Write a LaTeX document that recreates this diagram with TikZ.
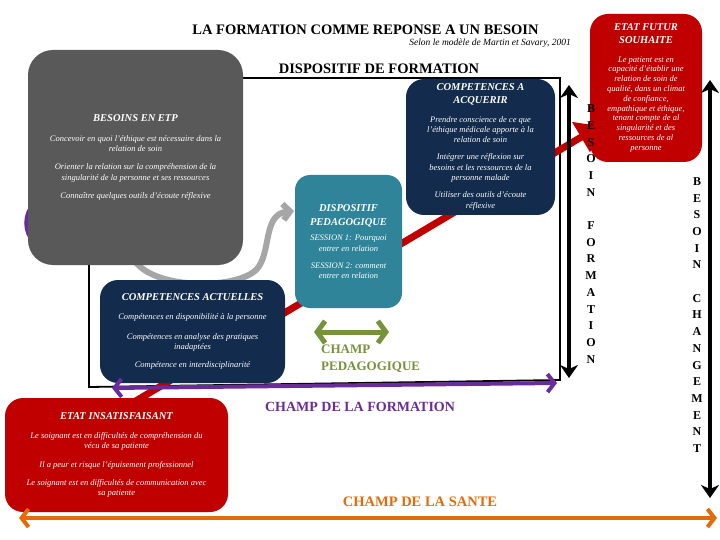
\documentclass[tikz,border=0pt]{standalone}
\usepackage{fontspec}
\setmainfont{Liberation Serif}
\usetikzlibrary{arrows.meta}
\definecolor{boxgray}{HTML}{595959}
\definecolor{boxred}{HTML}{C00000}
\definecolor{boxnavy}{HTML}{132B4D}
\definecolor{boxteal}{HTML}{2F849A}
\definecolor{champviolet}{HTML}{6A2C9A}
\definecolor{champolive}{HTML}{76923C}
\definecolor{champorange}{HTML}{E36C09}
\definecolor{arrowgray}{HTML}{A6A6A6}
\newcommand\cardtitle[1]{{\fontsize{10.5}{12}\selectfont\bfseries #1}}
\begin{document}
\begin{tikzpicture}[x=1pt,y=-1pt,
  card/.style={rounded corners=18pt, text=white, align=center, inner sep=0pt,
    font=\fontsize{8.5}{10.3}\selectfont\itshape},
  bigtitle/.style={font=\fontsize{14.5}{16}\selectfont\bfseries, inner sep=0pt},
  champ/.style={font=\fontsize{14}{17}\selectfont\bfseries, inner sep=0pt},
  vletters/.style={font=\fontsize{12}{16.7}\selectfont\bfseries, align=center, inner sep=0pt},
  blackarrow/.style={line width=4.5pt, {Stealth[length=13pt,width=18pt,inset=4pt]}-{Stealth[length=13pt,width=18pt,inset=4pt]}},
  barbs/.style={{Straight Barb[length=7pt,width=18pt]}-{Straight Barb[length=7pt,width=18pt]}}
]
\useasboundingbox (0,0) rectangle (720,540);
\fill[white] (0,0) rectangle (720,540);

% frame of the training device
\draw[line width=1.8pt] (89,78) -- (560,78) -- (560,380) -- (89,387) -- cycle;

% red arrow (behind boxes)
\coordinate (rs) at (112,415);
\coordinate (re) at (600,126);
\draw[boxred, line width=7pt, -{Triangle[length=22pt,width=34pt]}] (rs) -- (re);

% purple arc behind the grey box
\draw[champviolet, line width=7pt] (36,204) .. controls (25,214) and (25,232) .. (36,242);

% grey curved arrow
\coordinate (gs) at (133,258);
\coordinate (ge) at (294,211);
\draw[arrowgray, line width=6pt, -{Straight Barb[length=7pt,width=16pt]}]
  (gs) .. controls (150,290) and (235,290) .. (256,270)
  .. controls (272,254) and (262,214) .. (ge);

% boxes
\node[card, fill=boxgray, rounded corners=25pt, minimum width=215pt, minimum height=215pt] (besoins) at (135.5,157.5)
 {\cardtitle{BESOINS EN ETP}\\[9pt]
  Concevoir en quoi l'éthique est nécessaire dans la\\ relation de soin\\[8pt]
  Orienter la relation sur la compréhension de la\\ singularité de la personne et ses ressources\\[8pt]
  Connaître quelques outils d'écoute réflexive};

\node[card, fill=boxred, font=\fontsize{8.5}{9.8}\selectfont\itshape, minimum width=112pt, minimum height=148pt] (futur) at (646,88)
 {\cardtitle{ETAT FUTUR}\\[2.5pt] \cardtitle{SOUHAITE}\\[9pt]
  Le patient est en\\ capacité d'établir une\\ relation de soin de\\ qualité, dans un climat\\
  de confiance,\\ empathique et éthique,\\ tenant compte de al\\ singularité et des\\
  ressources de al\\ personne};

\node[card, fill=boxnavy, minimum width=149pt, minimum height=136pt] (acquerir) at (480.5,147)
 {\cardtitle{COMPETENCES A}\\[2.5pt] \cardtitle{ACQUERIR}\\[8pt]
  Prendre conscience de ce que\\ l'éthique médicale apporte à la\\ relation de soin\\[7pt]
  Intégrer une réflexion sur\\ besoins et les ressources de la\\ personne malade\\[7pt]
  Utiliser des outils d'écoute\\ réflexive};

\node[card, fill=boxteal, rounded corners=15pt, minimum width=107pt, minimum height=133pt] (dispositif) at (348.5,241.5)
 {\cardtitle{DISPOSITIF}\\[4pt] \cardtitle{PEDAGOGIQUE}\\[5pt]
  SESSION 1: Pourquoi\\ entrer en relation\\[7pt]
  SESSION 2: comment\\ entrer en relation};

\node[card, fill=boxnavy, minimum width=185pt, minimum height=103pt] (actuelles) at (192.5,331.5)
 {\cardtitle{COMPETENCES ACTUELLES}\\[9pt]
  Compétences en disponibilité à la personne\\[9pt]
  Compétences en analyse des pratiques\\ inadaptées\\[8pt]
  Compétence en interdisciplinarité};

\node[card, fill=boxred, minimum width=223pt, minimum height=114pt] (insat) at (116.5,455)
 {\cardtitle{ETAT INSATISFAISANT}\\[9pt]
  Le soignant est en difficultés de compréhension du\\ vécu de sa patiente\\[8pt]
  Il a peur et risque l'épuisement professionnel\\[8pt]
  Le soignant est en difficultés de communication avec\\ sa patiente};

% titles
\node[bigtitle] (title) at (365.5,30) {LA FORMATION COMME REPONSE A UN BESOIN};
\node[anchor=east, inner sep=0pt, font=\fontsize{9.5}{11}\selectfont\itshape] (subtitle) at (571,43)
  {Selon le modèle de Martin et Savary, 2001};
\node[bigtitle] (dispform) at (379,69) {DISPOSITIF DE FORMATION};

% purple arrow (champ de la formation)
\coordinate (ps) at (112,388);
\coordinate (pe) at (557,383);
\draw[champviolet, line width=4pt, barbs] (ps) -- (pe);
\node[champ, text=champviolet] (champform) at (360,407) {CHAMP DE LA FORMATION};

% green arrow (champ pedagogique)
\coordinate (gl) at (314,332);
\coordinate (gr) at (389,332);
\draw[champolive, line width=5pt, {Straight Barb[length=8pt,width=22pt]}-{Straight Barb[length=8pt,width=22pt]}] (gl) -- (gr);
\node[anchor=north west, align=left, inner sep=0pt, font=\fontsize{13}{17}\selectfont\bfseries, text=champolive] (champpeda) at (321,345)
  {CHAMP\\PEDAGOGIQUE};

% orange arrow (champ de la sante)
\coordinate (ol) at (19,518);
\coordinate (or) at (717,518);
\draw[champorange, line width=4pt, barbs] (ol) -- (or);
\node[champ, text=champorange, font=\fontsize{14.5}{17}\selectfont\bfseries] (champsante) at (420,502) {CHAMP DE LA SANTE};

% black vertical arrows
\coordinate (bf1) at (569,85);
\coordinate (bf2) at (569,378);
\draw[blackarrow] (bf1) -- (bf2);
\node[vletters] (besform) at (591,234)
  {B\\E\\S\\O\\I\\N\\[16.7pt]F\\O\\R\\M\\A\\T\\I\\O\\N};

\coordinate (bc1) at (710,80);
\coordinate (bc2) at (710,498);
\draw[blackarrow] (bc1) -- (bc2);
\node[vletters] (beschange) at (697,315)
  {B\\E\\S\\O\\I\\N\\[16.7pt]C\\H\\A\\N\\G\\E\\M\\E\\N\\T};
\end{tikzpicture}
\end{document}
